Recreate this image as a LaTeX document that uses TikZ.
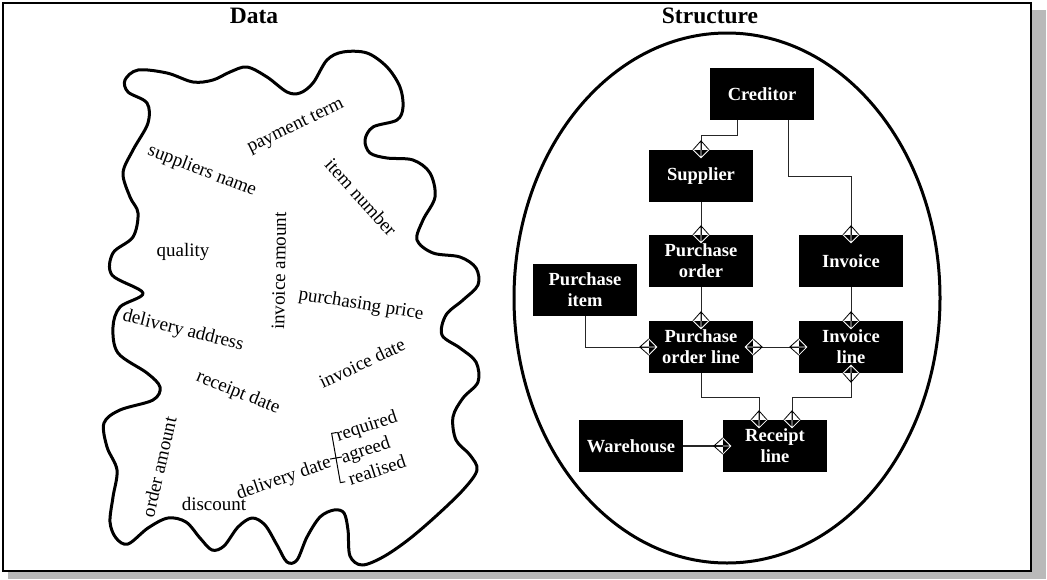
\documentclass[tikz,border=0pt]{standalone}
\usepackage{fontspec}
\setmainfont{Liberation Serif}
\begin{document}
\begin{tikzpicture}[x=1pt,y=-1pt,
  entity/.style={fill=black, text=white, minimum width=104pt, minimum height=52pt,
    inner sep=0pt, align=center, font=\fontsize{18.5}{21}\selectfont\bfseries},
  rel/.style={draw=black!85, line width=0.8pt},
  word/.style={font=\fontsize{19}{21}\selectfont, inner sep=0pt},
  heading/.style={font=\fontsize{23.5}{26}\selectfont\bfseries, inner sep=0pt},
  outline/.style={line width=3pt, line join=round},
  crow/.pic={
    \draw[black, line width=0.8pt] (0,-8) -- (9,0) -- (0,8) (0,0) -- (9,0);
    \draw[white, line width=0.8pt] (0,-8) -- (-8,0) -- (0,8) (0,0) -- (-8,0);
  }
]
\useasboundingbox (0,0) rectangle (1047,579);

% drop shadow and frame
\fill[gray!55] (1032,10) rectangle (1046,579);
\fill[gray!55] (8,572) rectangle (1046,579);
\draw[line width=1.6pt] (3,3) rectangle (1031,571);

% headings
\node[heading] (hdata) at (254,16) {Data};
\node[heading] (hstruct) at (710,16) {Structure};

% ---------- the unstructured data cloud ----------
\draw[outline] plot[smooth cycle, tension=0.55] coordinates {
  (138,70) (167,73) (193,82) (213,80) (230,72) (247,67) (267,77) (287,92)
  (300,93) (313,83) (327,60) (343,52) (367,53) (387,67) (400,87) (403,107)
  (397,120) (373,127) (365,140) (370,153) (387,158) (413,160) (430,173)
  (435,197) (423,220) (417,240) (433,253) (460,257) (476,268) (478,285)
  (463,300) (446,315) (442,335) (460,348) (476,362) (478,382) (463,398)
  (453,417) (456,440) (470,455) (477,470) (463,490) (435,517) (408,540)
  (383,557) (362,565) (350,556) (348,530) (344,513) (334,510) (320,517)
  (307,537) (297,560) (287,562) (277,545) (265,525) (252,518) (238,527)
  (224,546) (212,550) (200,538) (186,522) (168,518) (148,528) (128,544)
  (116,538) (110,522) (113,497) (117,470) (107,447) (104,423) (120,410)
  (153,400) (160,387) (147,373) (118,353) (113,327) (120,307) (143,293)
  (112,275) (113,253) (133,237) (138,213) (130,197) (123,173) (133,150)
  (148,123) (147,103) (128,92) (125,80)};

\node[word, rotate=26]  (payterm)  at (296,127) {payment term};
\node[word, rotate=-21] (supname)  at (202,171) {suppliers name};
\node[word, rotate=-48] (itemno)   at (361,197) {item number};
\node[word]             (quality)  at (183,252) {quality};
\node[word, rotate=89]  (invamt)   at (279,271) {invoice amount};
\node[word, rotate=-9]  (purprice) at (361,305) {purchasing price};
\node[word, rotate=-14] (deladdr)  at (183,331) {delivery address};
\node[word, rotate=25]  (invdate)  at (362,363) {invoice date};
\node[word, rotate=-22] (recdate)  at (238,393) {receipt date};
\node[word, rotate=77]  (ordamt)   at (159,467) {order amount};
\node[word]             (discount) at (214,504) {discount};
\node[word, rotate=19]  (deldate)  at (284,479) {delivery date};
\node[word, rotate=18]  (required) at (367,427) {required};
\node[word, rotate=18]  (agreed)   at (366,451) {agreed};
\node[word, rotate=18]  (realised) at (377,470) {realised};
% bracket grouping the three kinds of delivery date
\draw[line width=1pt, rotate around={10:(336,458)}]
  (341,433) -- (336,433) -- (336,483) -- (341,483)
  (330,458) -- (342,458);

% ---------- the structured model ----------
\draw[line width=3pt] (727,298) ellipse [x radius=213pt, y radius=265pt];

\node[entity] (cred) at (762,94)  {Creditor};
\node[entity] (sup)  at (701,176) {Supplier};
\node[entity] (po)   at (701,261) {Purchase\\order};
\node[entity] (inv)  at (851,261) {Invoice};
\node[entity] (pi)   at (585,290) {Purchase\\item};
\node[entity] (pol)  at (701,347) {Purchase\\order line};
\node[entity] (il)   at (851,347) {Invoice\\line};
\node[entity] (wh)   at (631,446) {Warehouse};
\node[entity] (rl)   at (775,446) {Receipt\\line};

% relationships
\draw[rel] ([xshift=-25pt]cred.south) -- ++(0,15) -| (sup.north);
\draw[rel] ([xshift=26pt]cred.south) -- ++(0,56) -| (inv.north);
\draw[rel] (sup.south) -- (po.north);
\draw[rel] (po.south) -- (pol.north);
\draw[rel] (inv.south) -- (il.north);
\draw[rel] (pi.south) |- (pol.west);
\draw[rel] (pol.east) -- (il.west);
\draw[rel] (pol.south) -- ++(0,24) -| ([xshift=-16pt]rl.north);
\draw[rel] (il.south) -- ++(0,24) -| ([xshift=17pt]rl.north);
\draw[rel, line width=1.4pt] (wh.east) -- (rl.west);

% "many" ends
\pic[rotate=90]  at (sup.north) {crow};
\pic[rotate=90]  at (po.north)  {crow};
\pic[rotate=90]  at (inv.north) {crow};
\pic[rotate=90]  at (pol.north) {crow};
\pic[rotate=90]  at (il.north)  {crow};
\pic[rotate=180] at (pol.west)  {crow};
\pic[rotate=0]   at (pol.east)  {crow};
\pic[rotate=180] at (il.west)   {crow};
\pic[rotate=-90] at (il.south)  {crow};
\pic[rotate=90]  at ([xshift=-16pt]rl.north) {crow};
\pic[rotate=90]  at ([xshift=17pt]rl.north)  {crow};
\pic[rotate=180] at (rl.west)   {crow};
\end{tikzpicture}
\end{document}
